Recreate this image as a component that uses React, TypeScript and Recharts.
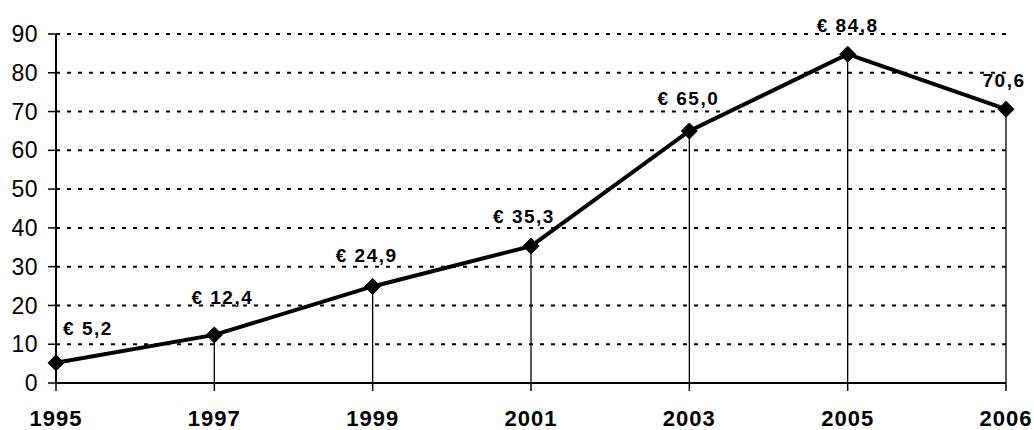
import React from "react";
import { LineChart, Line, XAxis, YAxis, CartesianGrid, ReferenceLine, LabelList } from "recharts";

const years = ["1995", "1997", "1999", "2001", "2003", "2005", "2006"];
const values = [5.2, 12.4, 24.9, 35.3, 65.0, 84.8, 70.6];
const pointLabels = ["€ 5,2", "€ 12,4", "€ 24,9", "€ 35,3", "€ 65,0", "€ 84,8", "70,6"];
const yTicks = [0, 10, 20, 30, 40, 50, 60, 70, 80, 90];

const data = years.map((year, i) => ({ year, value: values[i], label: pointLabels[i] }));

const FONT = "'Liberation Sans', Arial, sans-serif";

const Diamond = (props: any) => {
  const { cx, cy } = props;
  if (cx == null || cy == null) return null;
  const r = 8;
  return (
    <path
      d={`M${cx},${cy - r} L${cx + r},${cy} L${cx},${cy + r} L${cx - r},${cy} Z`}
      fill="#000"
      stroke="#000"
    />
  );
};

const labelShift: [number, number][] = [
  [32, -28],
  [8, -31],
  [-6, -24],
  [-7, -23],
  [-1, -26],
  [0, -22],
  [-2, -22],
];

const PointLabel = (props: any) => {
  const { x, y, index, value } = props;
  const [dx, dy] = labelShift[index] || [0, -25];
  return (
    <text
      x={x + dx}
      y={y + dy}
      textAnchor="middle"
      fontFamily={FONT}
      fontWeight="bold"
      fontSize={19}
      letterSpacing={1.5}
      fill="#000"
    >
      {value}
    </text>
  );
};

export default function App() {
  return (
    <div style={{ position: "absolute", left: 0, top: 0, background: "#fff" }}>
      <LineChart
        width={1034}
        height={430}
        data={data}
        margin={{ top: 34, right: 28, bottom: 7, left: 0 }}
      >
        <CartesianGrid
          horizontal={true}
          vertical={false}
          stroke="#000"
          strokeWidth={2}
          strokeDasharray="4 7"
        />
        <XAxis
          dataKey="year"
          height={40}
          interval={0}
          tickSize={8}
          tickMargin={19}
          axisLine={{ stroke: "#000", strokeWidth: 2 }}
          tickLine={{ stroke: "#000", strokeWidth: 1.5 }}
          tick={{ fill: "#000", fontFamily: FONT, fontWeight: "bold", fontSize: 22, letterSpacing: 1 }}
        />
        <YAxis
          width={56}
          domain={[0, 90]}
          ticks={yTicks}
          interval={0}
          tickSize={8}
          tickMargin={10}
          axisLine={{ stroke: "#000", strokeWidth: 2 }}
          tickLine={{ stroke: "#000", strokeWidth: 1.5 }}
          tick={{ fill: "#000", fontFamily: FONT, fontSize: 23, letterSpacing: 0.5 }}
        />
        {data.map((d) => (
          <ReferenceLine
            key={d.year}
            segment={[
              { x: d.year, y: 0 },
              { x: d.year, y: d.value },
            ]}
            stroke="#000"
            strokeWidth={1.3}
          />
        ))}
        <Line
          type="linear"
          dataKey="value"
          stroke="#000"
          strokeWidth={4}
          dot={<Diamond />}
          activeDot={false}
          isAnimationActive={false}
        >
          <LabelList dataKey="label" content={<PointLabel />} />
        </Line>
      </LineChart>
    </div>
  );
}
